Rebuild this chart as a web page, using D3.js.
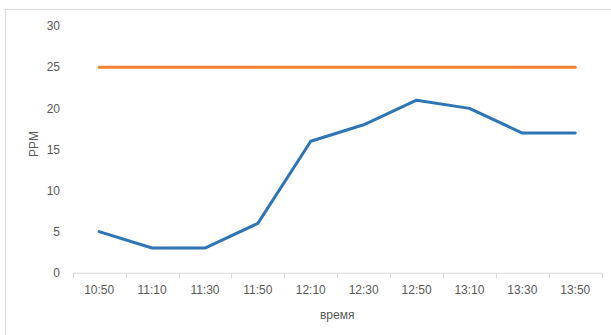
<!DOCTYPE html>
<html>
<head>
<meta charset="utf-8">
<script src="https://cdn.jsdelivr.net/npm/d3@7"></script>
<style>
  html, body { margin: 0; padding: 0; background: #fff; }
  svg { display: block; }
  text { font-family: "Liberation Sans", Arial, sans-serif; fill: #595959; }
</style>
</head>
<body>
<div id="chart"></div>
<script>
// Time of measurement (x categories)
const times = ["10:50", "11:10", "11:30", "11:50", "12:10", "12:30", "12:50", "13:10", "13:30", "13:50"];
// Measured concentration, PPM
const measured = [5, 3, 3, 6, 16, 18, 21, 20, 17, 17];
// Limit level, PPM
const limit = [25, 25, 25, 25, 25, 25, 25, 25, 25, 25];
// Y axis ticks
const yTicks = [0, 5, 10, 15, 20, 25, 30];

const W = 611, H = 335;
const margin = { left: 72.7, right: 9.3, top: 26.2, bottom: 62.3 };

const svg = d3.select("#chart").append("svg")
  .attr("width", W).attr("height", H);

// chart area frame
svg.append("rect")
  .attr("x", 5.5).attr("y", 9.5)
  .attr("width", W + 10).attr("height", H + 10)
  .attr("fill", "none").attr("stroke", "#d9d9d9");

const x = d3.scaleBand()
  .domain(times)
  .range([margin.left, W - margin.right])
  .paddingInner(0).paddingOuter(0);

const y = d3.scaleLinear()
  .domain([0, 30])
  .range([H - margin.bottom, margin.top]);

// y tick labels (no axis line)
svg.append("g").selectAll("text")
  .data(yTicks).join("text")
  .attr("x", 60).attr("y", d => y(d))
  .attr("dy", "0.35em")
  .attr("text-anchor", "end")
  .attr("font-size", 12)
  .text(d => d);

// x axis
const xAxis = svg.append("g")
  .attr("transform", `translate(0,${y(0)})`);
xAxis.append("line")
  .attr("x1", x.range()[0]).attr("x2", x.range()[1])
  .attr("y1", 0.5).attr("y2", 0.5)
  .attr("stroke", "#d9d9d9").attr("stroke-width", 1);
const boundaries = times.map(t => x(t)).concat([x.range()[1]]);
xAxis.selectAll("line.tick")
  .data(boundaries).join("line")
  .attr("class", "tick")
  .attr("x1", d => Math.round(d) + 0.5).attr("x2", d => Math.round(d) + 0.5)
  .attr("y1", 0).attr("y2", 5.5)
  .attr("stroke", "#d9d9d9");
xAxis.selectAll("text")
  .data(times).join("text")
  .attr("x", d => x(d) + x.bandwidth() / 2)
  .attr("y", 21.5)
  .attr("text-anchor", "middle")
  .attr("font-size", 12)
  .text(d => d);

// axis titles
svg.append("text")
  .attr("x", (x.range()[0] + x.range()[1]) / 2)
  .attr("y", 319)
  .attr("text-anchor", "middle")
  .attr("font-size", 12)
  .text("время");
svg.append("text")
  .attr("transform", `translate(38,144) rotate(-90)`)
  .attr("text-anchor", "middle")
  .attr("font-size", 12)
  .text("PPM");

const line = d3.line()
  .x((d, i) => x(times[i]) + x.bandwidth() / 2)
  .y(d => y(d));

svg.append("path")
  .datum(limit)
  .attr("d", line)
  .attr("fill", "none")
  .attr("stroke", "#F4812F")
  .attr("stroke-width", 3)
  .attr("stroke-linecap", "round");

svg.append("path")
  .datum(measured)
  .attr("d", line)
  .attr("fill", "none")
  .attr("stroke", "#2E75B6")
  .attr("stroke-width", 3)
  .attr("stroke-linejoin", "round")
  .attr("stroke-linecap", "round");
</script>
</body>
</html>
